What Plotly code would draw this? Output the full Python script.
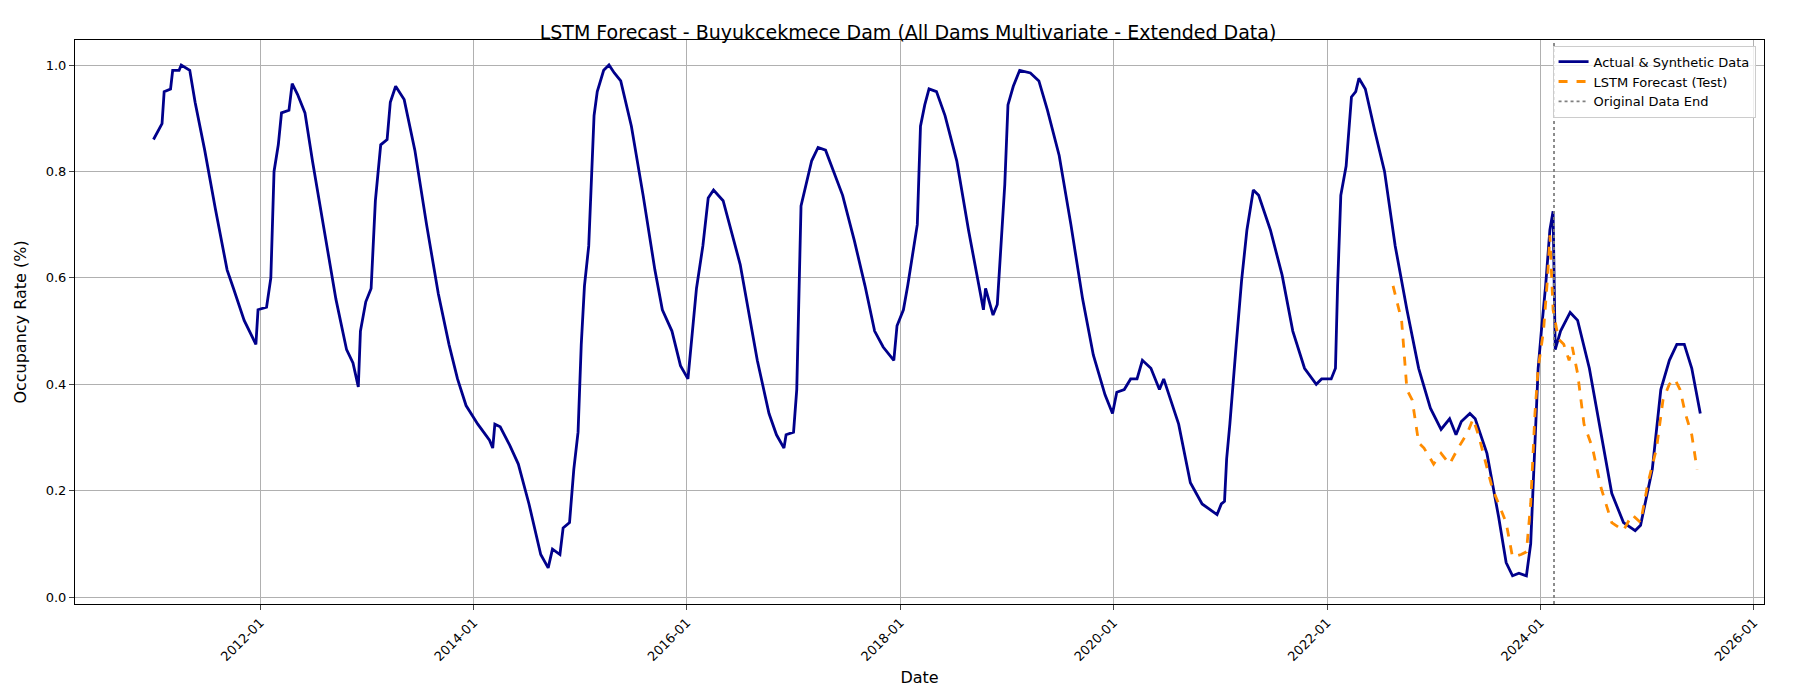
import pandas as pd
import plotly.graph_objects as go

# Actual & synthetic data (decimal year, occupancy rate)
actual_year = [2011.00, 2011.05, 2011.08, 2011.10, 2011.16, 2011.18, 2011.24, 2011.26, 2011.34, 2011.39,
               2011.48, 2011.58, 2011.69, 2011.75, 2011.85, 2011.96, 2011.98, 2012.06, 2012.10, 2012.13,
               2012.17, 2012.20, 2012.27, 2012.30, 2012.35, 2012.42, 2012.49, 2012.60, 2012.71, 2012.81,
               2012.87, 2012.92, 2012.94, 2012.99, 2013.04, 2013.08, 2013.13, 2013.19, 2013.22, 2013.27,
               2013.35, 2013.45, 2013.56, 2013.67, 2013.77, 2013.85, 2013.93, 2014.04, 2014.15, 2014.18,
               2014.20, 2014.25, 2014.34, 2014.42, 2014.52, 2014.63, 2014.70, 2014.74, 2014.81, 2014.84,
               2014.90, 2014.94, 2014.98, 2015.01, 2015.04, 2015.08, 2015.11, 2015.13, 2015.16, 2015.22,
               2015.27, 2015.32, 2015.38, 2015.48, 2015.59, 2015.70, 2015.77, 2015.86, 2015.94, 2016.01,
               2016.05, 2016.09, 2016.15, 2016.20, 2016.25, 2016.34, 2016.50, 2016.66, 2016.77, 2016.84,
               2016.91, 2016.93, 2017.00, 2017.03, 2017.07, 2017.12, 2017.17, 2017.23, 2017.30, 2017.46,
               2017.57, 2017.67, 2017.76, 2017.84, 2017.94, 2017.97, 2018.03, 2018.07, 2018.10, 2018.16,
               2018.19, 2018.23, 2018.27, 2018.34, 2018.42, 2018.53, 2018.64, 2018.72, 2018.78, 2018.80,
               2018.87, 2018.91, 2018.94, 2018.98, 2019.01, 2019.06, 2019.12, 2019.22, 2019.30, 2019.38,
               2019.49, 2019.60, 2019.71, 2019.81, 2019.92, 2019.99, 2020.03, 2020.10, 2020.16, 2020.22,
               2020.27, 2020.35, 2020.43, 2020.47, 2020.61, 2020.72, 2020.83, 2020.90, 2020.97, 2021.01,
               2021.04, 2021.06, 2021.09, 2021.15, 2021.20, 2021.25, 2021.31, 2021.36, 2021.47, 2021.58,
               2021.68, 2021.79, 2021.90, 2021.95, 2022.04, 2022.08, 2022.10, 2022.13, 2022.18, 2022.23,
               2022.27, 2022.30, 2022.36, 2022.45, 2022.54, 2022.64, 2022.75, 2022.86, 2022.97, 2023.07,
               2023.15, 2023.21, 2023.26, 2023.34, 2023.39, 2023.50, 2023.61, 2023.68, 2023.74, 2023.80,
               2023.87, 2023.91, 2023.95, 2023.98, 2024.01, 2024.05, 2024.09, 2024.12, 2024.14, 2024.19,
               2024.28, 2024.35, 2024.46, 2024.57, 2024.67, 2024.78, 2024.89, 2024.94, 2025.05, 2025.13,
               2025.21, 2025.28, 2025.35, 2025.42, 2025.50]
actual_val = [0.86, 0.88, 0.89, 0.95, 0.955, 0.99, 0.99, 1.00, 0.99, 0.93,
              0.84, 0.73, 0.615, 0.58, 0.52, 0.475, 0.54, 0.545, 0.60, 0.80,
              0.85, 0.91, 0.915, 0.965, 0.945, 0.91, 0.82, 0.69, 0.56, 0.465,
              0.44, 0.395, 0.50, 0.555, 0.58, 0.745, 0.85, 0.86, 0.93, 0.96,
              0.935, 0.84, 0.70, 0.57, 0.475, 0.41, 0.36, 0.325, 0.295, 0.28,
              0.325, 0.32, 0.285, 0.25, 0.175, 0.08, 0.055, 0.09, 0.08, 0.13,
              0.14, 0.24, 0.31, 0.475, 0.585, 0.66, 0.80, 0.905, 0.95, 0.99,
              1.00, 0.985, 0.97, 0.885, 0.755, 0.615, 0.54, 0.50, 0.435, 0.41,
              0.495, 0.58, 0.66, 0.75, 0.765, 0.745, 0.625, 0.445, 0.345, 0.305,
              0.28, 0.305, 0.31, 0.39, 0.735, 0.775, 0.82, 0.845, 0.84, 0.755,
              0.67, 0.585, 0.50, 0.47, 0.445, 0.51, 0.54, 0.585, 0.625, 0.70,
              0.885, 0.925, 0.955, 0.95, 0.905, 0.82, 0.69, 0.605, 0.54, 0.58,
              0.53, 0.55, 0.645, 0.775, 0.925, 0.96, 0.99, 0.985, 0.97, 0.915,
              0.83, 0.70, 0.56, 0.455, 0.38, 0.345, 0.385, 0.39, 0.41, 0.41,
              0.445, 0.43, 0.39, 0.41, 0.325, 0.215, 0.175, 0.165, 0.155, 0.175,
              0.18, 0.26, 0.325, 0.475, 0.595, 0.69, 0.765, 0.755, 0.69, 0.605,
              0.50, 0.43, 0.40, 0.41, 0.41, 0.43, 0.585, 0.755, 0.81, 0.94,
              0.95, 0.975, 0.955, 0.875, 0.80, 0.66, 0.54, 0.43, 0.355, 0.315,
              0.335, 0.305, 0.33, 0.345, 0.335, 0.27, 0.15, 0.065, 0.04, 0.045,
              0.04, 0.10, 0.305, 0.43, 0.50, 0.585, 0.69, 0.725, 0.465, 0.50,
              0.535, 0.52, 0.43, 0.305, 0.195, 0.14, 0.125, 0.135, 0.24, 0.39,
              0.445, 0.475, 0.475, 0.43, 0.345]

# LSTM forecast on test period
forecast_year = [2022.62, 2022.70, 2022.75, 2022.80, 2022.86, 2022.91, 2023.00, 2023.07, 2023.15, 2023.23,
                 2023.32, 2023.37, 2023.42, 2023.50, 2023.55, 2023.61, 2023.68, 2023.74, 2023.82, 2023.87,
                 2023.91, 2023.95, 2023.98, 2024.03, 2024.07, 2024.09, 2024.12, 2024.17, 2024.22, 2024.27,
                 2024.30, 2024.35, 2024.41, 2024.49, 2024.57, 2024.67, 2024.78, 2024.86, 2024.94, 2025.01,
                 2025.09, 2025.15, 2025.21, 2025.26, 2025.31, 2025.36, 2025.42, 2025.47]
forecast_val = [0.585, 0.52, 0.39, 0.37, 0.29, 0.28, 0.25, 0.27, 0.25, 0.28,
                0.31, 0.335, 0.305, 0.24, 0.205, 0.175, 0.14, 0.075, 0.08, 0.085,
                0.175, 0.345, 0.43, 0.50, 0.605, 0.68, 0.54, 0.485, 0.475, 0.445,
                0.47, 0.42, 0.325, 0.28, 0.205, 0.14, 0.125, 0.155, 0.14, 0.215,
                0.28, 0.37, 0.40, 0.41, 0.39, 0.345, 0.305, 0.24]

original_end = "2024-02-17"


def to_date(years):
    base = pd.Timestamp("2000-01-01")
    return [base + pd.Timedelta(days=(y - 2000) * 365.25) for y in years]


fig = go.Figure()
fig.add_trace(go.Scatter(x=to_date(actual_year), y=actual_val, mode='lines',
                         name='Actual & Synthetic Data', line=dict(color='#00008b', width=2.8)))
fig.add_trace(go.Scatter(x=to_date(forecast_year), y=forecast_val, mode='lines',
                         name='LSTM Forecast (Test)',
                         line=dict(color='#ff8c00', width=2.8, dash='dash')))
# legend entry for the vertical line
fig.add_trace(go.Scatter(x=[None], y=[None], mode='lines', name='Original Data End',
                         line=dict(color='gray', width=1.8, dash='dot')))
fig.add_shape(type='line', x0=original_end, x1=original_end, y0=0, y1=1, yref='paper',
              line=dict(color='gray', width=1.8, dash='dot'))

fig.update_layout(
    width=1800, height=700,
    template='plotly_white',
    font=dict(family='DejaVu Sans', size=13, color='black'),
    title=dict(text='LSTM Forecast - Buyukcekmece Dam (All Dams Multivariate - Extended Data)',
               x=0.5, xanchor='center', y=0.975, font=dict(size=19)),
    margin=dict(l=56, r=44, t=32, b=104),
    xaxis=dict(title=dict(text='Date', standoff=8), range=['2010-04-07', '2026-02-05'],
               tickvals=['2012-01-01', '2014-01-01', '2016-01-01', '2018-01-01', '2020-01-01',
                         '2022-01-01', '2024-01-01', '2026-01-01'],
               tickformat='%Y-%m', tickangle=-45, showgrid=True, gridcolor='#b0b0b0',
               showline=True, linecolor='black', mirror=True, ticks='outside', ticklen=5,
               zeroline=False),
    yaxis=dict(title='Occupancy Rate (%)', range=[-0.013, 1.047], dtick=0.2, tickformat='.1f',
               showgrid=True, gridcolor='#b0b0b0', showline=True, linecolor='black', mirror=True,
               ticks='outside', ticklen=5, zeroline=False),
    legend=dict(x=0.995, y=0.99, xanchor='right', yanchor='top', bgcolor='rgba(255,255,255,0.8)',
                bordercolor='#cccccc', borderwidth=1, font=dict(size=13)),
)

fig.write_html("out.html")
